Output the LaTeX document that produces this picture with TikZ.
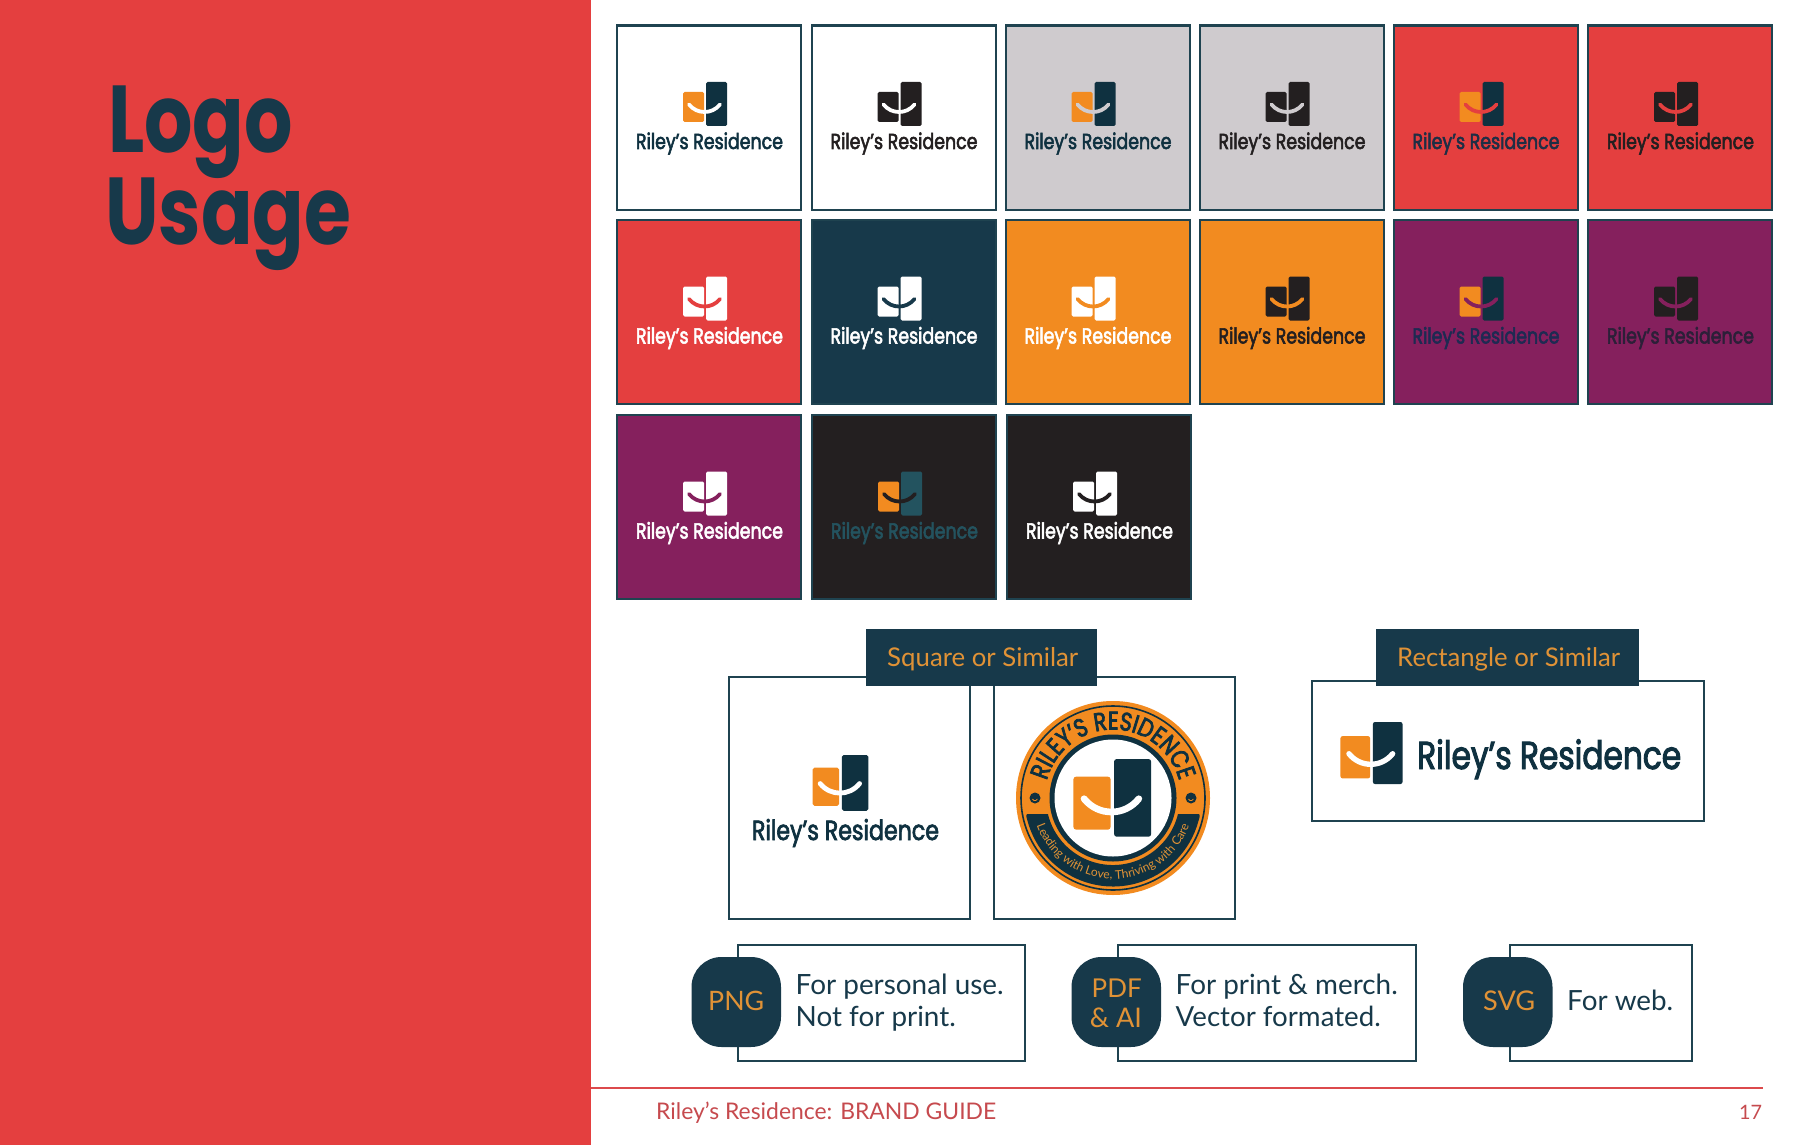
\documentclass[tikz,border=0pt]{standalone}
\usepackage{fontspec}
\usetikzlibrary{decorations.text}
\setmainfont{Lato}
\newfontfamily\logofont[FakeStretch=.8,FakeBold=2.5]{Poppins}
\newfontfamily\titlefont[FakeStretch=.8]{Poppins}
\newfontfamily\sealfont[FakeStretch=.82,FakeBold=3]{Poppins}
\definecolor{pagered}{HTML}{E43F3F}
\definecolor{navy}{HTML}{17394A}
\definecolor{logonavy}{HTML}{0F3140}
\definecolor{bordernavy}{HTML}{1F4350}
\definecolor{brandorange}{HTML}{F28B20}
\definecolor{labelorange}{HTML}{E09236}
\definecolor{plum}{HTML}{85205D}
\definecolor{inkblack}{HTML}{231F20}
\definecolor{softgrey}{HTML}{CFCBCE}
\definecolor{teal}{HTML}{23535F}
\definecolor{plumnavy}{HTML}{1E2A52}
\definecolor{plumblack}{HTML}{2C1F38}
\definecolor{rednavy}{HTML}{1E2E45}
\definecolor{footred}{HTML}{C64A4E}
\definecolor{linered}{HTML}{DC4A4C}
\tikzset{
  tilebox/.style={draw=bordernavy,line width=2.4pt,minimum width=184pt,minimum height=184pt,inner sep=0pt,anchor=north west},
  framebox/.style={draw=bordernavy,line width=2pt,inner sep=0pt,anchor=north west,fill=white},
  headerbox/.style={fill=navy,inner sep=0pt,outer sep=0pt,anchor=north west},
  badge/.style={fill=navy,rounded corners=30pt,inner sep=0pt,outer sep=0pt,anchor=north west,minimum width=89.5pt,minimum height=90pt},
  txt/.style={anchor=base west,inner sep=0pt},
}
% #1 scale, #2 left bar, #3 right bar, #4 smile
\newcommand{\logomark}[4]{%
  \begin{scope}[scale=#1]
    \fill[#2,rounded corners={1.5pt*#1}] (-22,10) rectangle (-1,40);
    \fill[#3,rounded corners={1.5pt*#1}] (1,0) rectangle (22,44);
    \draw[#4,line width={3.8pt*#1},line cap=round] (-16,22.5) .. controls (-8,32.5) and (7,32.5) .. (15,22.5);
  \end{scope}}
% #1 name #2 x #3 y #4 bg #5 left #6 right #7 smile #8 text
\newcommand{\tile}[8]{%
  \node[tilebox,fill=#4] (#1) at ({#2-1},{#3-.5}) {};
  \begin{scope}[shift={({#2+88},{#3+57})}]
    \logomark{1}{#5}{#6}{#7}
    \node[anchor=base,inner sep=0pt,text=#8] (#1-label) at (4.5,67) {\resizebox{147pt}{!}{\logofont Riley’s Residence}};
  \end{scope}}
\begin{document}
\begin{tikzpicture}[x=1pt,y=-1pt]
\useasboundingbox (0,0) rectangle (1799,1145);
\fill[white] (0,0) rectangle (1799,1145);
\fill[pagered] (0,0) rectangle (591,1145);
% title
\node[txt,text=navy] (title1) at (108,153) {\titlefont\fontsize{95}{95}\selectfont\bfseries Logo};
\node[txt,text=navy] (title2) at (105,244) {\titlefont\fontsize{95}{95}\selectfont\bfseries Usage};
% tiles
\tile{a1}{617}{25}{white}{brandorange}{logonavy}{white}{logonavy}
\tile{a2}{811.5}{25}{white}{inkblack}{inkblack}{white}{inkblack}
\tile{a3}{1005.5}{25}{softgrey}{brandorange}{logonavy}{softgrey}{logonavy}
\tile{a4}{1199.5}{25}{softgrey}{inkblack}{inkblack}{softgrey}{inkblack}
\tile{a5}{1393.5}{25}{pagered}{brandorange}{logonavy}{pagered}{rednavy}
\tile{a6}{1588}{25}{pagered}{inkblack}{inkblack}{pagered}{inkblack}
\tile{b1}{617}{219.5}{pagered}{white}{white}{pagered}{white}
\tile{b2}{811.5}{219.5}{navy}{white}{white}{navy}{white}
\tile{b3}{1005.5}{219.5}{brandorange}{white}{white}{brandorange}{white}
\tile{b4}{1199.5}{219.5}{brandorange}{inkblack}{inkblack}{brandorange}{inkblack}
\tile{b5}{1393.5}{219.5}{plum}{brandorange}{logonavy}{plum}{plumnavy}
\tile{b6}{1588}{219.5}{plum}{inkblack}{inkblack}{plum}{plumblack}
\tile{c1}{617}{414.5}{plum}{white}{white}{plum}{white}
\tile{c2}{812}{414.5}{inkblack}{brandorange}{teal}{inkblack}{teal}
\tile{c3}{1007}{414.5}{inkblack}{white}{white}{inkblack}{white}
% frames
\node[framebox,minimum width=241pt,minimum height=242pt] (sq1) at (728,676) {};
\node[framebox,minimum width=241pt,minimum height=242pt] (sq2) at (992.5,676) {};
\node[framebox,minimum width=392pt,minimum height=140pt] (rect) at (1310.5,679.5) {};
% headers
\node[headerbox,minimum width=231pt,minimum height=57pt] (h1) at (866,629) {};
\node[txt,text=labelorange] (h1t) at (887,666) {\resizebox{191pt}{!}{Square or Similar}};
\node[headerbox,minimum width=263pt,minimum height=57pt] (h2) at (1376,629) {};
\node[txt,text=labelorange] (h2t) at (1397,666) {\resizebox{223pt}{!}{Rectangle or Similar}};
% square logo
\begin{scope}[shift={(840.5,755)}]
  \logomark{1.27}{brandorange}{logonavy}{white}
\end{scope}
\node[anchor=base,inner sep=0pt,text=logonavy] (sq1t) at (845.5,840) {\resizebox{187pt}{!}{\logofont Riley’s Residence}};
% rectangle logo
\begin{scope}[shift={(1371.5,722)}]
  \logomark{1.41}{brandorange}{logonavy}{white}
\end{scope}
\node[txt,text=logonavy] (rectt) at (1417,769) {\resizebox{264pt}{!}{\logofont Riley’s Residence}};
% seal
\begin{scope}[shift={(1113,798)},y=1pt]
  \fill[brandorange] (0,0) circle (97);
  \draw[logonavy,line width=1.6pt] (0,0) circle (92);
  \fill[logonavy] (-65,-16) -- (-83,-16) .. controls (-87.5,-16) .. (195:88.5) arc (195:345:88.5) .. controls (87.5,-16) .. (83,-16) -- (65,-16) arc (346.2:193.8:67) -- cycle;
  \fill[logonavy] (0,0) circle (63.5);
  \fill[white] (0,0) circle (58.5);
  \fill[logonavy] (180:78) circle (5.5);
  \fill[logonavy] (0:78) circle (5.5);
  \draw[brandorange,line width=.8pt] (-80.5,-1) arc (200:340:2.6);
  \draw[brandorange,line width=.8pt] (75.5,-1) arc (200:340:2.6);
  \path[decorate,decoration={text along path,text color=logonavy,text align=center,
     text={|\sealfont\fontsize{25.5}{25.5}\selectfont|RILEY’S RESIDENCE}}] (176:68.5) arc (176:4:68.5);
  \path[decorate,decoration={text along path,text color=labelorange,text align=center,
     text={|\fontsize{12}{12}\selectfont|Leading with Love, Thriving with Care}}] (195:81) arc (195:345:81);
\end{scope}
\begin{scope}[shift={(1112.3,759)}]
  \logomark{1.766}{brandorange}{logonavy}{white}
\end{scope}
% format boxes
\node[framebox,minimum width=287pt,minimum height=115.5pt] (f1) at (737,944) {};
\node[badge] (p1) at (691.5,957) {};
\node[txt,text=labelorange] (p1t) at (708,1010) {\resizebox{56pt}{!}{PNG}};
\node[txt,text=navy] (f1a) at (795.5,994) {\resizebox{208pt}{!}{For personal use.}};
\node[txt,text=navy] (f1b) at (795.5,1026.5) {\resizebox{160pt}{!}{Not for print.}};
\node[framebox,minimum width=298pt,minimum height=115.5pt] (f2) at (1116.5,944) {};
\node[badge] (p2) at (1071.5,957) {};
\node[txt,text=labelorange] (p2t) at (1091.5,997.5) {\resizebox{50pt}{!}{PDF}};
\node[txt,text=labelorange] (p2u) at (1089.7,1027.5) {\resizebox{52pt}{!}{\& AI}};
\node[txt,text=navy] (f2a) at (1175.5,994) {\resizebox{222pt}{!}{For print \& merch.}};
\node[txt,text=navy] (f2b) at (1175.5,1026.5) {\resizebox{205pt}{!}{Vector formated.}};
\node[framebox,minimum width=182pt,minimum height=115.5pt] (f3) at (1508.5,944) {};
\node[badge] (p3) at (1463,957) {};
\node[txt,text=labelorange] (p3t) at (1483,1010) {\resizebox{52pt}{!}{SVG}};
\node[txt,text=navy] (f3a) at (1567,1010) {\resizebox{106pt}{!}{For web.}};
% footer
\coordinate (footl) at (591,1087.7);
\coordinate (footr) at (1763,1087.7);
\draw[linered,line width=2pt] (footl) -- (footr);
\node[txt,text=footred] (foot) at (656,1119) {\resizebox{340pt}{!}{Riley’s Residence: BRAND GUIDE}};
\node[txt,text=footred] (page) at (1739,1119) {\resizebox{23pt}{!}{17}};
\end{tikzpicture}
\end{document}
